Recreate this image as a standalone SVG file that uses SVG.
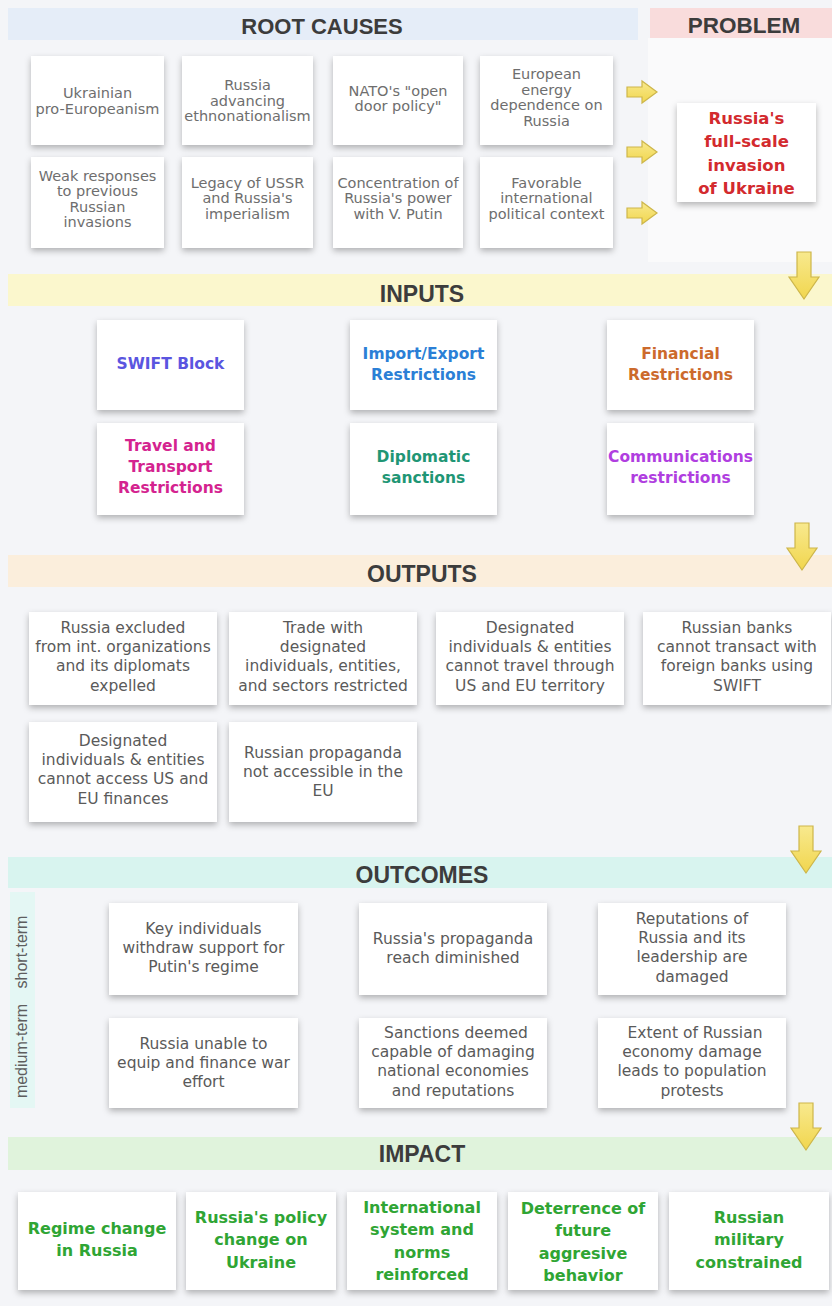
<svg xmlns="http://www.w3.org/2000/svg" width="832" height="1306" viewBox="0 0 832 1306">
<defs>
<filter id="sh" x="-15%" y="-15%" width="130%" height="140%">
<feDropShadow dx="0" dy="3" stdDeviation="3" flood-color="#000" flood-opacity="0.28"/>
</filter>
<linearGradient id="ag" x1="0" y1="0" x2="0" y2="1">
<stop offset="0" stop-color="#f8e98e"/>
<stop offset="1" stop-color="#f1d64e"/>
</linearGradient>
<path id="ar" d="M0,-5 H15 V-11 L30,0 L15,11 V5 H0 Z"/>
<path id="ad" d="M-7,0 H7 V25 H15 L0,47 L-15,25 H-7 Z"/>
</defs>
<style>
.box{fill:#ffffff;filter:url(#sh)}
.hd{font-family:"Liberation Sans",Arial,sans-serif;font-weight:bold;fill:#3c3c3c;text-anchor:middle}
.rc{font-family:"DejaVu Sans",sans-serif;font-size:14.5px;fill:#6e6e6e;text-anchor:middle}
.op{font-family:"DejaVu Sans",sans-serif;font-size:15.5px;fill:#5a5a5a;text-anchor:middle}
.in{font-family:"DejaVu Sans",sans-serif;font-size:15.5px;font-weight:bold;text-anchor:middle}
.im{font-family:"DejaVu Sans",sans-serif;font-size:16px;font-weight:bold;fill:#2fa534;text-anchor:middle}
.pb{font-family:"DejaVu Sans",sans-serif;font-size:16.5px;font-weight:bold;fill:#d32a2e;text-anchor:middle}
.sl{font-family:"Liberation Sans",Arial,sans-serif;font-size:16px;fill:#5e5e5e;text-anchor:middle}
.arr{fill:url(#ag);stroke:#cdb64a;stroke-width:1.2}
</style>
<rect x="0" y="0" width="832" height="1306" fill="#f4f5f8"/>
<rect x="648" y="38" width="184" height="224" fill="#fafafb"/>
<rect x="8" y="8" width="630" height="32" fill="#e5edf8"/>
<rect x="650" y="8" width="182" height="30" fill="#f9dcdc"/>
<rect x="8" y="274" width="824" height="32" fill="#fbf7cd"/>
<rect x="8" y="555" width="824" height="32" fill="#fbeedc"/>
<rect x="8" y="857" width="824" height="31" fill="#d8f4ef"/>
<rect x="8" y="1137" width="824" height="33" fill="#e0f3dc"/>
<rect x="10" y="892" width="25" height="216" fill="#e4f7f4"/>
<text class="hd" x="322" y="33.5" font-size="22">ROOT CAUSES</text>
<text class="hd" x="744" y="33" font-size="22.5">PROBLEM</text>
<text class="hd" x="422" y="302" font-size="23">INPUTS</text>
<text class="hd" x="422" y="582" font-size="23">OUTPUTS</text>
<text class="hd" x="422" y="883" font-size="23">OUTCOMES</text>
<text class="hd" x="422" y="1162" font-size="23">IMPACT</text>
<text class="sl" transform="translate(27,952) rotate(-90)">short-term</text>
<text class="sl" transform="translate(27,1051) rotate(-90)">medium-term</text>

<g id="rc1"><rect class="box" x="31" y="56" width="133" height="89"/><text class="rc" x="97.5" y="98"><tspan x="97.5">Ukrainian</tspan><tspan x="97.5" dy="15.5">pro-Europeanism</tspan></text></g>
<g id="rc2"><rect class="box" x="182" y="56" width="131" height="89"/><text class="rc" x="247.5" y="90"><tspan x="247.5">Russia</tspan><tspan x="247.5" dy="15.5">advancing</tspan><tspan x="247.5" dy="15.5">ethnonationalism</tspan></text></g>
<g id="rc3"><rect class="box" x="333" y="56" width="130" height="89"/><text class="rc" x="398" y="95.5"><tspan x="398">NATO's "open</tspan><tspan x="398" dy="15.5">door policy"</tspan></text></g>
<g id="rc4"><rect class="box" x="480" y="56" width="133" height="89"/><text class="rc" x="546.5" y="79"><tspan x="546.5">European</tspan><tspan x="546.5" dy="15.5">energy</tspan><tspan x="546.5" dy="15.5">dependence on</tspan><tspan x="546.5" dy="15.5">Russia</tspan></text></g>
<g id="rc5"><rect class="box" x="31" y="157" width="133" height="91"/><text class="rc" x="97.5" y="180.5"><tspan x="97.5">Weak responses</tspan><tspan x="97.5" dy="15.5">to previous</tspan><tspan x="97.5" dy="15.5">Russian</tspan><tspan x="97.5" dy="15.5">invasions</tspan></text></g>
<g id="rc6"><rect class="box" x="182" y="157" width="131" height="91"/><text class="rc" x="247.5" y="187.7"><tspan x="247.5">Legacy of USSR</tspan><tspan x="247.5" dy="15.5">and Russia's</tspan><tspan x="247.5" dy="15.5">imperialism</tspan></text></g>
<g id="rc7"><rect class="box" x="333" y="157" width="130" height="91"/><text class="rc" x="398" y="187.7"><tspan x="398">Concentration of</tspan><tspan x="398" dy="15.5">Russia's power</tspan><tspan x="398" dy="15.5">with V. Putin</tspan></text></g>
<g id="rc8"><rect class="box" x="480" y="157" width="133" height="91"/><text class="rc" x="546.5" y="187.7"><tspan x="546.5">Favorable</tspan><tspan x="546.5" dy="15.5">international</tspan><tspan x="546.5" dy="15.5">political context</tspan></text></g>

<g id="problem"><rect class="box" x="677" y="103" width="139" height="99"/><text class="pb" x="746.5" y="124"><tspan x="746.5">Russia's</tspan><tspan x="746.5" dy="23.3">full-scale</tspan><tspan x="746.5" dy="23.3">invasion</tspan><tspan x="746.5" dy="23.3">of Ukraine</tspan></text></g>

<g id="in1"><rect class="box" x="97" y="320" width="147" height="90"/><text class="in" fill="#5a55e0" x="170.5" y="368.6">SWIFT Block</text></g>
<g id="in2"><rect class="box" x="350" y="320" width="147" height="90"/><text class="in" fill="#2b7fd6" x="423.5" y="358.6"><tspan x="423.5">Import/Export</tspan><tspan x="423.5" dy="21">Restrictions</tspan></text></g>
<g id="in3"><rect class="box" x="607" y="320" width="147" height="90"/><text class="in" fill="#cc6a2c" x="680.5" y="358.6"><tspan x="680.5">Financial</tspan><tspan x="680.5" dy="21">Restrictions</tspan></text></g>
<g id="in4"><rect class="box" x="97" y="423" width="147" height="92"/><text class="in" fill="#d4238f" x="170.5" y="450.6"><tspan x="170.5">Travel and</tspan><tspan x="170.5" dy="21">Transport</tspan><tspan x="170.5" dy="21">Restrictions</tspan></text></g>
<g id="in5"><rect class="box" x="350" y="423" width="147" height="92"/><text class="in" fill="#1f9675" x="423.5" y="461.6"><tspan x="423.5">Diplomatic</tspan><tspan x="423.5" dy="21">sanctions</tspan></text></g>
<g id="in6"><rect class="box" x="607" y="423" width="147" height="92"/><text class="in" fill="#b03ee0" x="680.5" y="461.6"><tspan x="680.5">Communications</tspan><tspan x="680.5" dy="21">restrictions</tspan></text></g>

<g id="out1"><rect class="box" x="29" y="612" width="188" height="93"/><text class="op" x="123" y="632.6"><tspan x="123">Russia excluded</tspan><tspan x="123" dy="19.3">from int. organizations</tspan><tspan x="123" dy="19.3">and its diplomats</tspan><tspan x="123" dy="19.3">expelled</tspan></text></g>
<g id="out2"><rect class="box" x="229" y="612" width="188" height="93"/><text class="op" x="323" y="632.6"><tspan x="323">Trade with</tspan><tspan x="323" dy="19.3">designated</tspan><tspan x="323" dy="19.3">individuals, entities,</tspan><tspan x="323" dy="19.3">and sectors restricted</tspan></text></g>
<g id="out3"><rect class="box" x="436" y="612" width="188" height="93"/><text class="op" x="530" y="632.6"><tspan x="530">Designated</tspan><tspan x="530" dy="19.3">individuals &amp; entities</tspan><tspan x="530" dy="19.3">cannot travel through</tspan><tspan x="530" dy="19.3">US and EU territory</tspan></text></g>
<g id="out4"><rect class="box" x="643" y="612" width="188" height="93"/><text class="op" x="737" y="632.6"><tspan x="737">Russian banks</tspan><tspan x="737" dy="19.3">cannot transact with</tspan><tspan x="737" dy="19.3">foreign banks using</tspan><tspan x="737" dy="19.3">SWIFT</tspan></text></g>
<g id="out5"><rect class="box" x="29" y="722" width="188" height="100"/><text class="op" x="123" y="745.6"><tspan x="123">Designated</tspan><tspan x="123" dy="19.3">individuals &amp; entities</tspan><tspan x="123" dy="19.3">cannot access US and</tspan><tspan x="123" dy="19.3">EU finances</tspan></text></g>
<g id="out6"><rect class="box" x="229" y="722" width="188" height="100"/><text class="op" x="323" y="757.6"><tspan x="323">Russian propaganda</tspan><tspan x="323" dy="19.3">not accessible in the</tspan><tspan x="323" dy="19.3">EU</tspan></text></g>

<g id="oc1"><rect class="box" x="109" y="903" width="189" height="92"/><text class="op" x="203.5" y="933.6"><tspan x="203.5">Key individuals</tspan><tspan x="203.5" dy="19.3">withdraw support for</tspan><tspan x="203.5" dy="19.3">Putin's regime</tspan></text></g>
<g id="oc2"><rect class="box" x="359" y="903" width="188" height="92"/><text class="op" x="453" y="943.6"><tspan x="453">Russia's propaganda</tspan><tspan x="453" dy="19.3">reach diminished</tspan></text></g>
<g id="oc3"><rect class="box" x="598" y="903" width="188" height="92"/><text class="op" x="692" y="923.6"><tspan x="692">Reputations of</tspan><tspan x="692" dy="19.3">Russia and its</tspan><tspan x="692" dy="19.3">leadership are</tspan><tspan x="692" dy="19.3">damaged</tspan></text></g>
<g id="oc4"><rect class="box" x="109" y="1018" width="189" height="90"/><text class="op" x="203.5" y="1048.6"><tspan x="203.5">Russia unable to</tspan><tspan x="203.5" dy="19.3">equip and finance war</tspan><tspan x="203.5" dy="19.3">effort</tspan></text></g>
<g id="oc5"><rect class="box" x="359" y="1018" width="188" height="90"/><text class="op" x="453" y="1037.6"><tspan x="456">Sanctions deemed</tspan><tspan x="453" dy="19.3">capable of damaging</tspan><tspan x="453" dy="19.3">national economies</tspan><tspan x="453" dy="19.3">and reputations</tspan></text></g>
<g id="oc6"><rect class="box" x="598" y="1018" width="188" height="90"/><text class="op" x="692" y="1037.6"><tspan x="695">Extent of Russian</tspan><tspan x="692" dy="19.3">economy damage</tspan><tspan x="692" dy="19.3">leads to population</tspan><tspan x="692" dy="19.3">protests</tspan></text></g>

<g id="im1"><rect class="box" x="18" y="1192" width="158" height="98"/><text class="im" x="97" y="1233.8"><tspan x="97">Regime change</tspan><tspan x="97" dy="22.5">in Russia</tspan></text></g>
<g id="im2"><rect class="box" x="186" y="1192" width="150" height="98"/><text class="im" x="261" y="1222.8"><tspan x="261">Russia's policy</tspan><tspan x="261" dy="22.5">change on</tspan><tspan x="261" dy="22.5">Ukraine</tspan></text></g>
<g id="im3"><rect class="box" x="347" y="1192" width="150" height="98"/><text class="im" x="422" y="1212.8"><tspan x="422">International</tspan><tspan x="422" dy="22.5">system and</tspan><tspan x="422" dy="22.5">norms</tspan><tspan x="422" dy="22.5">reinforced</tspan></text></g>
<g id="im4"><rect class="box" x="508" y="1192" width="150" height="98"/><text class="im" x="583" y="1213.8"><tspan x="583">Deterrence of</tspan><tspan x="583" dy="22.5">future</tspan><tspan x="583" dy="22.5">aggresive</tspan><tspan x="583" dy="22.5">behavior</tspan></text></g>
<g id="im5"><rect class="box" x="669" y="1192" width="160" height="98"/><text class="im" x="749" y="1222.8"><tspan x="749">Russian</tspan><tspan x="749" dy="22.5">military</tspan><tspan x="749" dy="22.5">constrained</tspan></text></g>

<g id="connectors">
<use href="#ar" class="arr" x="627" y="92"/>
<use href="#ar" class="arr" x="627" y="152"/>
<use href="#ar" class="arr" x="627" y="213"/>
<use href="#ad" class="arr" x="804" y="252"/>
<use href="#ad" class="arr" x="802" y="523"/>
<use href="#ad" class="arr" x="806" y="826"/>
<use href="#ad" class="arr" x="806" y="1103"/>
</g>
</svg>
